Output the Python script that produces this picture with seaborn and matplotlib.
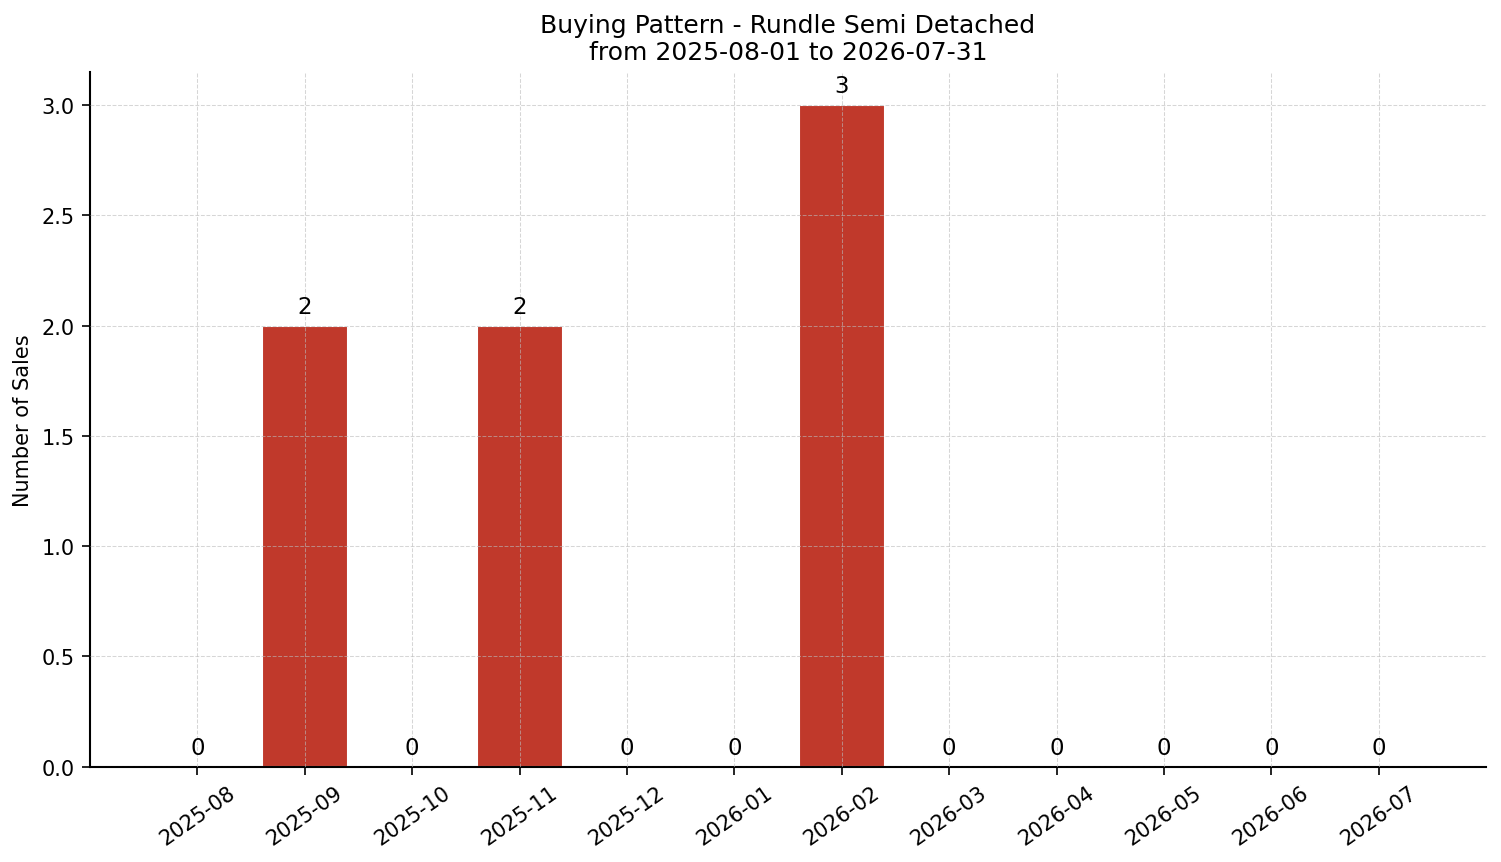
import matplotlib
matplotlib.use("Agg")
import matplotlib.pyplot as plt
import seaborn as sns
import pandas as pd

months = ["2025-08", "2025-09", "2025-10", "2025-11", "2025-12", "2026-01",
          "2026-02", "2026-03", "2026-04", "2026-05", "2026-06", "2026-07"]
sales = [0, 2, 0, 2, 0, 0, 3, 0, 0, 0, 0, 0]

df = pd.DataFrame({"month": months, "sales": sales})

sns.set_style("white")
plt.rcParams['font.family'] = ['DejaVu Sans']
plt.rcParams['text.color'] = 'black'
plt.rcParams['axes.labelcolor'] = 'black'
plt.rcParams['xtick.color'] = 'black'
plt.rcParams['ytick.color'] = 'black'

fig, ax = plt.subplots(figsize=(10.007, 5.753), dpi=150)
fig.subplots_adjust(left=0.06, right=0.99, top=0.9155, bottom=0.1105)

sns.barplot(data=df, x="month", y="sales", color="#c0392b", saturation=1,
            width=0.8, ax=ax)

for i, v in enumerate(sales):
    ax.text(i, v + 0.035, str(v), ha="center", va="bottom", fontsize=11, color="black")

ax.set_xlim(-1, len(months))
ax.set_ylim(0, 3.15)
ax.set_xlabel("")
ax.set_ylabel("Number of Sales", fontsize=10)
ax.set_title("Buying Pattern - Rundle Semi Detached\nfrom 2025-08-01 to 2026-07-31",
             fontsize=12, color="black")
ax.grid(True, linestyle="--", linewidth=0.5, color="#bbbbbb", alpha=0.6)
ax.set_axisbelow(False)
for b in ax.patches:
    b.set_zorder(1)
ax.tick_params(axis="x", rotation=35, labelsize=10, length=4)
ax.tick_params(axis="y", labelsize=10, length=4)
ax.tick_params(axis="both", bottom=True, left=True)
sns.despine(ax=ax)
for s in ["left", "bottom"]:
    ax.spines[s].set_color("black")
    ax.spines[s].set_linewidth(1.0)

fig.savefig("out.png", dpi=150)
